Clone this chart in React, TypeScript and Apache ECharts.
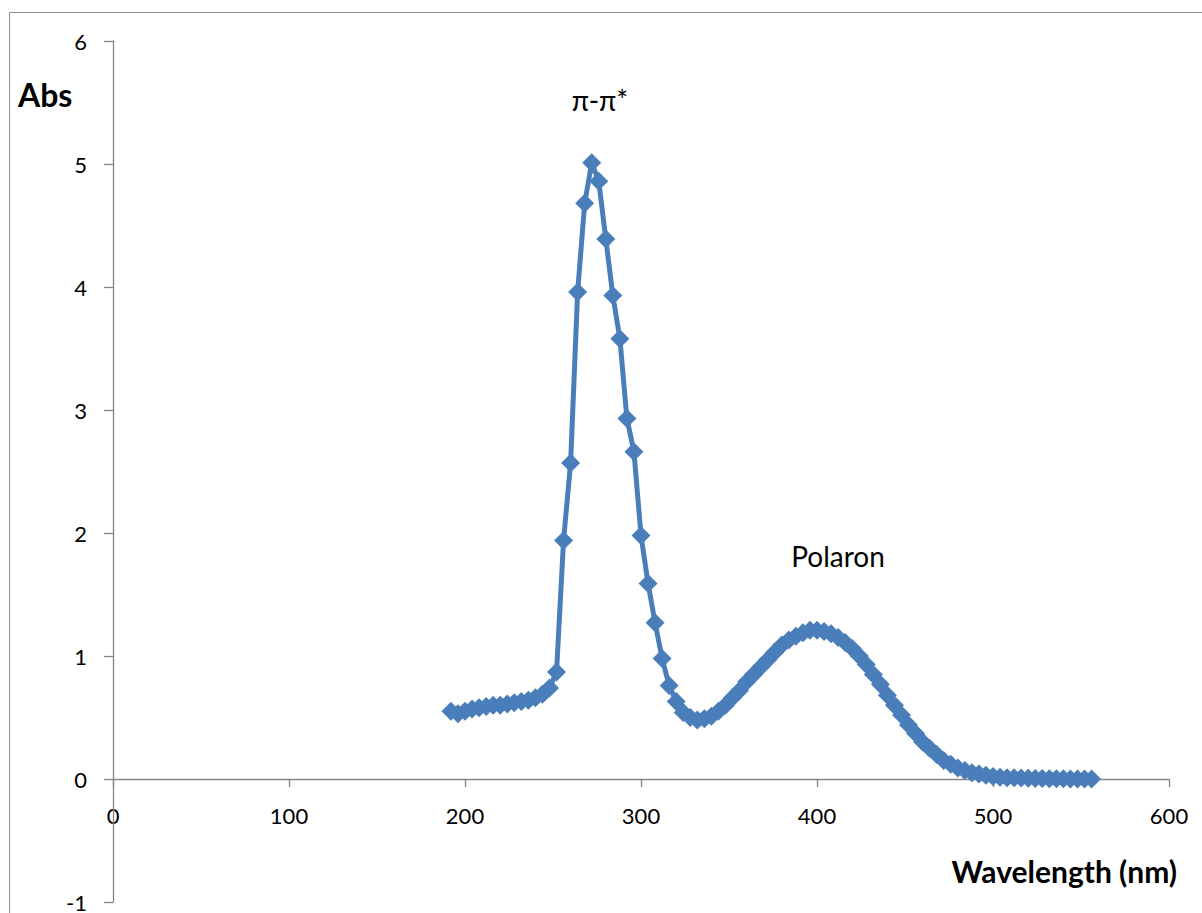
import React, { useEffect, useRef } from "react";
import * as echarts from "echarts";

const wavelengths: number[] = [
  192, 196, 200, 204, 208, 212, 216, 220, 224, 228,
  232, 236, 240, 244, 248, 252, 256, 260, 264, 268,
  272, 276, 280, 284, 288, 292, 296, 300, 304, 308,
  312, 316, 320, 324, 328, 332, 336, 340, 344, 348,
  352, 356, 360, 364, 368, 372, 376, 380, 384, 388,
  392, 396, 400, 404, 408, 412, 416, 420, 424, 428,
  432, 436, 440, 444, 448, 452, 456, 460, 464, 468,
  472, 476, 480, 484, 488, 492, 496, 500, 504, 508,
  512, 516, 520, 524, 528, 532, 536, 540, 544, 548,
  552, 556,
];

const absorbance: number[] = [
  0.55, 0.53, 0.55, 0.57, 0.58, 0.59, 0.6, 0.6, 0.61, 0.62,
  0.63, 0.64, 0.66, 0.69, 0.74, 0.87, 1.94, 2.57, 3.96, 4.68,
  5.01, 4.86, 4.39, 3.93, 3.58, 2.93, 2.66, 1.98, 1.59, 1.27,
  0.98, 0.76, 0.63, 0.54, 0.5, 0.48, 0.49, 0.51, 0.55, 0.6,
  0.66, 0.72, 0.79, 0.85, 0.91, 0.97, 1.03, 1.09, 1.13, 1.16,
  1.19, 1.21, 1.21, 1.2, 1.18, 1.15, 1.11, 1.06, 1.0, 0.93,
  0.85, 0.77, 0.68, 0.6, 0.52, 0.44, 0.37, 0.3, 0.25, 0.2,
  0.15, 0.12, 0.09, 0.07, 0.05, 0.04, 0.03, 0.02, 0.015, 0.01,
  0.01, 0.008, 0.006, 0.005, 0.004, 0.003, 0.002, 0.002, 0.001, 0.001,
  0.001, 0.0,
];

const xTickValues: number[] = [0, 100, 200, 300, 400, 500, 600];
const yTicks = { min: -1, max: 6, interval: 1 };

const FONT = "Lato, 'Noto Sans', sans-serif";
const AXIS_COLOR = "#868686";
const SERIES_COLOR = "#4A7EBB";

export default function App() {
  const ref = useRef<HTMLDivElement>(null);

  useEffect(() => {
    if (!ref.current) return;
    const chart = echarts.init(ref.current, undefined, { renderer: "svg" });
    const data = wavelengths.map((w, i) => [w, absorbance[i]]);
    const staticGraphics: any[] = [
      {
        id: "border",
        type: "rect",
        shape: { x: 9.5, y: 12.5, width: 1400, height: 1200 },
        style: { fill: "none", stroke: "#8c8c8c", lineWidth: 1 },
        silent: true,
        z: -1,
      },
      {
        id: "abs",
        type: "text",
        left: 18,
        top: 78,
        style: { text: "Abs", font: `bold 32px ${FONT}`, fill: "#000" },
      },
      {
        id: "xname",
        type: "text",
        x: 1177,
        y: 871,
        style: {
          text: "Wavelength (nm)",
          font: `bold 30px ${FONT}`,
          fill: "#000",
          textAlign: "right",
          textVerticalAlign: "middle",
        },
      },
      {
        id: "pipi",
        type: "text",
        x: 600,
        y: 100,
        style: {
          text: "π-π*",
          font: `28px ${FONT}`,
          fill: "#000",
          textAlign: "center",
          textVerticalAlign: "middle",
        },
      },
      {
        id: "polaron",
        type: "text",
        x: 838,
        y: 556,
        style: {
          text: "Polaron",
          font: `28px ${FONT}`,
          fill: "#000",
          textAlign: "center",
          textVerticalAlign: "middle",
        },
      },
    ];
    chart.setOption({
      animation: false,
      backgroundColor: "#ffffff",
      grid: {
        left: 113,
        right: 33,
        top: 41,
        bottom: 11,
        containLabel: false,
        outerBoundsMode: "none",
      },
      xAxis: {
        type: "value",
        min: xTickValues[0],
        max: xTickValues[xTickValues.length - 1],
        interval: xTickValues[1] - xTickValues[0],
        axisLine: { onZero: true, lineStyle: { color: AXIS_COLOR, width: 1.3 } },
        axisTick: { show: true, length: 8, lineStyle: { color: AXIS_COLOR, width: 1.3 } },
        axisLabel: { show: false },
        splitLine: { show: false },
      },
      yAxis: {
        type: "value",
        min: yTicks.min,
        max: yTicks.max,
        interval: yTicks.interval,
        axisLine: { show: true, onZero: false, lineStyle: { color: AXIS_COLOR, width: 1.3 } },
        axisTick: { show: true, length: 9, lineStyle: { color: AXIS_COLOR, width: 1.3 } },
        axisLabel: { color: "#000", fontFamily: FONT, fontSize: 22, margin: 26 },
        splitLine: { show: false },
      },
      series: [
        {
          type: "line",
          data,
          symbol: "diamond",
          symbolSize: 19,
          showSymbol: true,
          lineStyle: { color: SERIES_COLOR, width: 5 },
          itemStyle: { color: SERIES_COLOR },
          z: 3,
        },
      ],
      graphic: staticGraphics,
    });

    const xLabels = xTickValues.map((v, i) => {
      const p = chart.convertToPixel({ gridIndex: 0 }, [v, 0]) as number[];
      return {
        id: "xl" + i,
        type: "text",
        x: p[0],
        y: p[1] + 36,
        style: {
          text: String(v),
          font: `22px ${FONT}`,
          fill: "#000",
          textAlign: "center",
          textVerticalAlign: "middle",
        },
      };
    });
    chart.setOption({ graphic: [...staticGraphics, ...xLabels] });

    return () => chart.dispose();
  }, []);

  return (
    <div
      ref={ref}
      style={{ position: "fixed", left: 0, top: 0, width: 1202, height: 913, background: "#fff" }}
    />
  );
}
